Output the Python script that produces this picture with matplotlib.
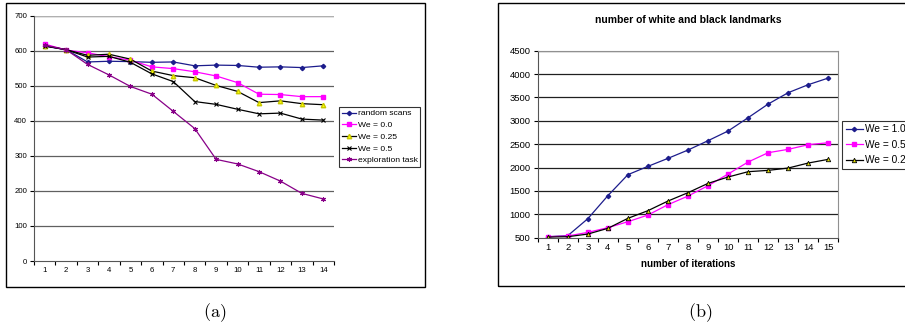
import matplotlib
matplotlib.use("Agg")
import matplotlib.pyplot as plt
from matplotlib.patches import Rectangle

plt.rcParams['font.family'] = ['Liberation Sans', 'DejaVu Sans']
plt.rcParams['mathtext.fontset'] = 'cm'

# panel (a)
iters_a = list(range(1, 15))
random_scans = [613, 603, 568, 570, 569, 567, 568, 557, 559, 558, 553, 554, 552, 557]
we_00 = [619, 602, 594, 583, 573, 554, 549, 540, 528, 509, 476, 475, 469, 469]
we_025 = [614, 603, 587, 590, 576, 542, 529, 523, 501, 484, 452, 457, 449, 446]
we_05 = [614, 603, 582, 584, 567, 534, 512, 455, 447, 433, 420, 422, 405, 402]
exploration = [616, 603, 561, 531, 498, 476, 427, 378, 290, 277, 255, 228, 193, 177]

# panel (b)
iters_b = list(range(1, 16))
wb_10 = [521, 543, 906, 1398, 1848, 2026, 2197, 2375, 2575, 2782, 3067, 3359, 3602, 3773, 3915]
wb_05 = [521, 536, 614, 714, 842, 985, 1206, 1391, 1612, 1862, 2119, 2318, 2390, 2489, 2532]
wb_025 = [514, 521, 578, 700, 914, 1078, 1284, 1463, 1662, 1798, 1912, 1940, 1990, 2097, 2176]

W, H = 905, 326
fig = plt.figure(figsize=(W / 100, H / 100), dpi=100)

def fx(px):
    return px / W

def fy(py):
    return 1 - py / H

# outer frames
fig.patches.append(Rectangle((fx(6), fy(287)), fx(425 - 6), (287 - 3) / H,
                             transform=fig.transFigure, fill=False, lw=1.0, ec='black'))
fig.patches.append(Rectangle((fx(498), fy(286)), fx(420), (286 - 3) / H,
                             transform=fig.transFigure, fill=False, lw=1.0, ec='black'))


def style_axis(ax, n, ymin, ymax, step, fs, gridcol):
    ax.set_xlim(0.5, n + 0.5)
    ax.set_ylim(ymin, ymax)
    ax.set_xticks(range(1, n + 1))
    ax.set_xticks([i + 0.5 for i in range(0, n + 1)], minor=True)
    ax.tick_params(axis='x', which='major', length=0, labelsize=fs, pad=4)
    ax.tick_params(axis='x', which='minor', length=3, width=0.8, direction='out')
    ax.set_yticks(range(ymin, ymax + 1, step))
    ax.tick_params(axis='y', length=3, width=0.8, labelsize=fs, pad=2)
    for v in range(ymin + step, ymax + 1, step):
        ax.axhline(v, color=gridcol, lw=0.9, zorder=0)
    for s in ('left', 'bottom'):
        ax.spines[s].set_color('#555555')
        ax.spines[s].set_linewidth(0.8)


# (a)
ax1 = fig.add_axes([fx(34), fy(261), fx(300), (261 - 15.7) / H])
style_axis(ax1, 14, 0, 700, 100, 5.6, '#606060')
ax1.spines['top'].set_visible(False)
ax1.spines['right'].set_visible(False)
ax1.axhline(700, color='#b0b0b0', lw=0.9, zorder=0)

l1 = ax1.plot(iters_a, random_scans, color='#1c1c8c', lw=0.9, marker='D', ms=2.2, label='random scans')
l2 = ax1.plot(iters_a, we_00, color='#ff00ff', lw=0.9, marker='s', ms=3.2, label='We = 0.0')
l3 = ax1.plot(iters_a, we_025, color='black', lw=0.9, marker='^', ms=3.2, mfc='#ffff00', mec='#c8c800', label='We = 0.25')
l4 = ax1.plot(iters_a, we_05, color='black', lw=0.9, marker='x', ms=3, mew=0.8, label='We = 0.5')
l5 = ax1.plot(iters_a, exploration, color='#880088', lw=0.9, marker=(6, 2, 0), ms=3.5, mew=0.8, label='exploration task')

leg1 = fig.legend(loc='upper left', bbox_to_anchor=(fx(339), fy(107)), fontsize=6.1,
                  frameon=True, fancybox=False, edgecolor='black', borderpad=0.3,
                  handlelength=1.7, handletextpad=0.2, labelspacing=0.45, borderaxespad=0,
                  handles=[l1[0], l2[0], l3[0], l4[0], l5[0]])
leg1.get_frame().set_linewidth(0.8)

# (b)
ax2 = fig.add_axes([fx(537.7), fy(237.7), fx(300.6), (237.7 - 50.7) / H])
style_axis(ax2, 15, 500, 4500, 500, 6.8, '#202020')
ax2.spines['top'].set_color('#909090')
ax2.spines['right'].set_color('#909090')

m1 = ax2.plot(iters_b, wb_10, color='#1c1c8c', lw=0.9, marker='D', ms=2.2, label='We = 1.0')
m2 = ax2.plot(iters_b, wb_05, color='#ff00ff', lw=0.9, marker='s', ms=3.2, label='We = 0.5')
m3 = ax2.plot(iters_b, wb_025, color='black', lw=0.9, marker='^', ms=3.2, mfc='#d8d800', mec='black', mew=0.6, label='We = 0.25')

ax2.set_title('number of white and black landmarks', fontsize=7.5, fontweight='bold', pad=20)
ax2.set_xlabel('number of iterations', fontsize=7, fontweight='bold', labelpad=5)

leg2 = fig.legend(loc='upper left', bbox_to_anchor=(fx(842), fy(120.7)), fontsize=7.3,
                  frameon=True, fancybox=False, edgecolor='black', borderpad=0.35,
                  handlelength=1.7, handletextpad=0.2, labelspacing=0.55, borderaxespad=0,
                  handles=[m1[0], m2[0], m3[0]])
leg2.get_frame().set_linewidth(0.8)

# captions
fig.text(fx(215), fy(313), r'$\mathrm{(a)}$', fontsize=13, ha='center', va='center')
fig.text(fx(700), fy(313), r'$\mathrm{(b)}$', fontsize=13, ha='center', va='center')

fig.savefig('out.png', dpi=100)
